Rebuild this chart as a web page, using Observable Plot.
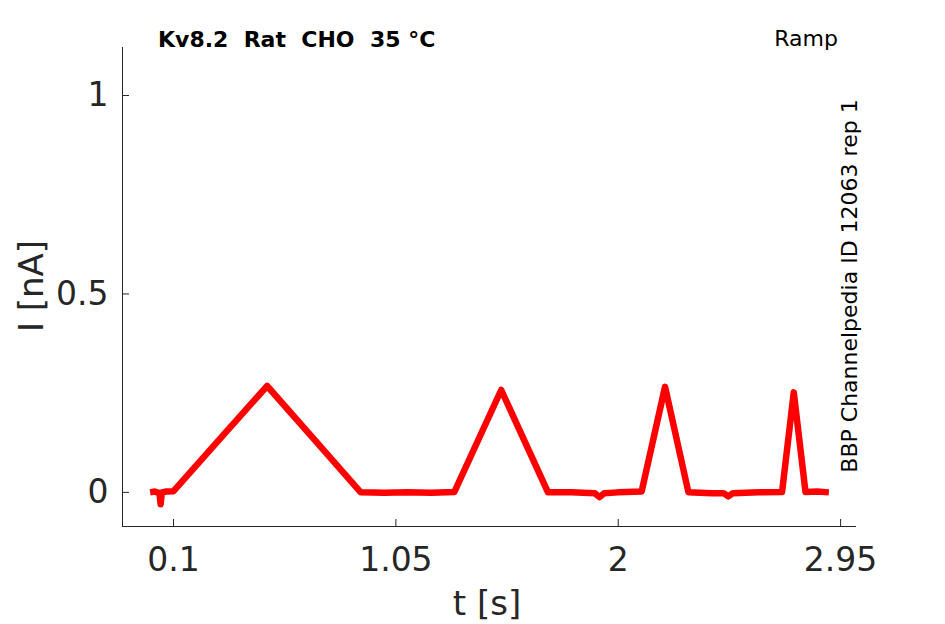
<!DOCTYPE html>
<html><head><meta charset="utf-8">
<script src="https://cdn.jsdelivr.net/npm/d3@7"></script>
<script src="https://cdn.jsdelivr.net/npm/@observablehq/plot@0.6"></script>
<style>
body{margin:0;background:#fff;}
svg{font-family:"DejaVu Sans",sans-serif;}
</style></head><body><div id="chart"></div>
<script>
// Time (s) and current (nA)
const time = [0.00,0.02,0.04,0.045,0.05,0.07,0.10,
  0.30,0.50,0.70,0.90,
  1.00,1.10,1.20,1.30,
  1.50,1.70,
  1.80,1.90,1.92,1.94,2.00,2.10,
  2.20,2.30,
  2.40,2.45,2.47,2.49,2.60,2.70,
  2.75,2.80,2.85,2.90];
const current = [0.000,0.002,-0.002,-0.030,0.000,0.002,0.003,
  0.136,0.268,0.134,0.000,
  -0.001,0.000,-0.001,0.001,
  0.258,0.000,
  0.000,-0.002,-0.012,-0.002,0.000,0.002,
  0.266,0.000,
  -0.002,-0.002,-0.010,-0.002,0.000,0.001,
  0.252,0.001,0.002,0.000];
const xTicks = [0.1, 1.05, 2, 2.95];
const xTickLabels = ["0.1", "1.05", "2", "2.95"];
const yTicks = [0, 0.5, 1];
const yTickLabels = ["0", "0.5", "1"];
const xDomain = [-0.118, 3.018];
const yDomain = [-0.086, 1.121];

const data = time.map((t, i) => ({t, I: current[i]}));
const axisColor = "#262626";

const plot = Plot.plot({
  width: 945, height: 624,
  marginLeft: 122, marginRight: 89, marginTop: 47, marginBottom: 98,
  x: {domain: xDomain},
  y: {domain: yDomain},
  style: {fontFamily: "DejaVu Sans, sans-serif", color: axisColor, background: "#fff"},
  marks: [
    Plot.ruleY([yDomain[0]], {stroke: axisColor, strokeWidth: 1}),
    Plot.ruleX([xDomain[0]], {stroke: axisColor, strokeWidth: 1}),
    Plot.axisX({ticks: xTicks, tickFormat: (d) => xTickLabels[xTicks.indexOf(d)], tickSize: -7, tickPadding: 28, fontSize: 33, label: null, stroke: axisColor}),
    Plot.axisY({ticks: yTicks, tickFormat: (d) => yTickLabels[yTicks.indexOf(d)], tickSize: -7, tickPadding: 21, fontSize: 33, label: null, stroke: axisColor}),
    Plot.line(data, {x: "t", y: "I", stroke: "#ff0000", strokeWidth: 6.5, strokeLinejoin: "round", strokeLinecap: "butt"})
  ]
});
document.getElementById("chart").appendChild(plot);

const svg = d3.select(plot);
svg.append("text").attr("x", 158).attr("y", 47).attr("font-size", 22).attr("font-weight", "bold")
  .attr("text-anchor", "start").attr("fill", "#000").text("Kv8.2\u00a0\u00a0Rat\u00a0\u00a0CHO\u00a0\u00a035 °C");
svg.append("text").attr("x", 838).attr("y", 46).attr("font-size", 22).attr("text-anchor", "end")
  .attr("fill", "#000").text("Ramp");
svg.append("text").attr("transform", "translate(857,286) rotate(-90)").attr("font-size", 22)
  .attr("text-anchor", "middle").attr("fill", "#000").text("BBP Channelpedia ID 12063 rep 1");
svg.append("text").attr("x", 487).attr("y", 615).attr("font-size", 34).attr("text-anchor", "middle")
  .attr("fill", axisColor).text("t [s]");
svg.append("text").attr("transform", "translate(43,286) rotate(-90)").attr("font-size", 34)
  .attr("text-anchor", "middle").attr("fill", axisColor).text("I [nA]");
</script></body></html>
